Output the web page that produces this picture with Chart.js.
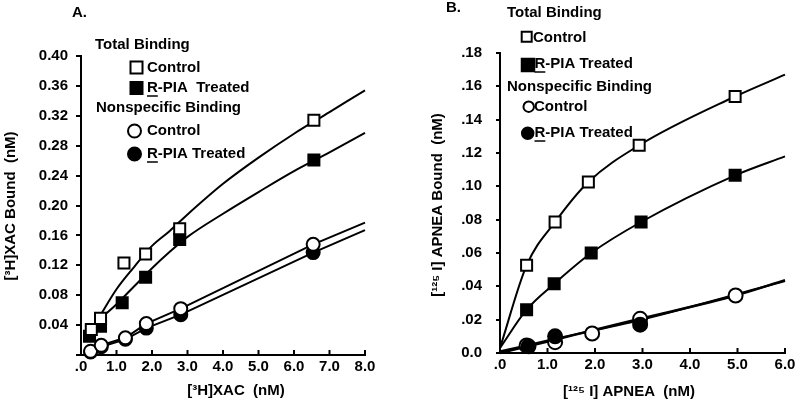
<!DOCTYPE html>
<html>
<head>
<meta charset="utf-8">
<script src="https://cdn.jsdelivr.net/npm/chart.js@4"></script>
<style>
  body { margin: 0; background: #fff; }
  .panel { position: absolute; top: 0; width: 400px; height: 402px; }
</style>
</head>
<body>
<div class="panel" style="left:0"><canvas id="chart-a" width="400" height="402"></canvas></div>
<div class="panel" style="left:400px"><canvas id="chart-b" width="400" height="402"></canvas></div>
<script>
const FONT = '"Liberation Sans", Arial, Helvetica, sans-serif';

// ---- Panel A: [3H]XAC ----
const aXLabels = [".0", "1.0", "2.0", "3.0", "4.0", "5.0", "6.0", "7.0", "8.0"];
const aYLabels = ["", "0.04", "0.08", "0.12", "0.16", "0.20", "0.24", "0.28", "0.32", "0.36", "0.40"];

const aTotalControl = [
  { x: 0.29, y: 0.034 }, { x: 0.55, y: 0.049 }, { x: 1.21, y: 0.123 },
  { x: 1.82, y: 0.135 }, { x: 2.78, y: 0.169 }, { x: 6.56, y: 0.314 },
];
const aTotalTreated = [
  { x: 0.24, y: 0.025 }, { x: 0.55, y: 0.0385 }, { x: 1.16, y: 0.070 },
  { x: 1.82, y: 0.104 }, { x: 2.78, y: 0.1545 }, { x: 6.56, y: 0.261 },
];
const aNonspecControl = [
  { x: 0.27, y: 0.005 }, { x: 0.57, y: 0.013 }, { x: 1.25, y: 0.023 },
  { x: 1.84, y: 0.042 }, { x: 2.81, y: 0.062 }, { x: 6.54, y: 0.148 },
];
const aNonspecTreated = [
  { x: 0.27, y: 0.004 }, { x: 0.57, y: 0.011 }, { x: 1.25, y: 0.021 },
  { x: 1.84, y: 0.036 }, { x: 2.81, y: 0.054 }, { x: 6.54, y: 0.137 },
];
// fitted curves
const aTotalControlFit = [
  { x: 0.53, y: 0.052 }, { x: 1.0, y: 0.088 }, { x: 1.5, y: 0.118 }, { x: 2.0, y: 0.146 },
  { x: 2.5, y: 0.166 }, { x: 3.0, y: 0.188 }, { x: 4.0, y: 0.229 }, { x: 5.0, y: 0.264 },
  { x: 6.0, y: 0.296 }, { x: 7.0, y: 0.325 }, { x: 8.0, y: 0.354 },
];
const aTotalTreatedFit = [
  { x: 0.53, y: 0.048 }, { x: 1.0, y: 0.068 }, { x: 1.5, y: 0.092 }, { x: 2.0, y: 0.116 },
  { x: 2.5, y: 0.138 }, { x: 3.0, y: 0.158 }, { x: 4.0, y: 0.189 }, { x: 5.0, y: 0.218 },
  { x: 6.0, y: 0.246 }, { x: 7.0, y: 0.271 }, { x: 8.0, y: 0.297 },
];
const aNonspecControlFit = [
  { x: 0.27, y: 0.005 }, { x: 0.57, y: 0.013 }, { x: 1.25, y: 0.023 }, { x: 1.84, y: 0.042 },
  { x: 2.81, y: 0.062 }, { x: 6.54, y: 0.148 }, { x: 8.0, y: 0.177 },
];
const aNonspecTreatedFit = [
  { x: 0.27, y: 0.004 }, { x: 0.57, y: 0.011 }, { x: 1.25, y: 0.021 }, { x: 1.84, y: 0.036 },
  { x: 2.81, y: 0.054 }, { x: 6.54, y: 0.137 }, { x: 8.0, y: 0.167 },
];

// ---- Panel B: [125I] APNEA ----
const bXLabels = [".0", "1.0", "2.0", "3.0", "4.0", "5.0", "6.0"];
const bYLabels = ["0.0", ".02", ".04", ".06", ".08", ".10", ".12", ".14", ".16", ".18"];

const bTotalControl = [
  { x: 0.56, y: 0.0526 }, { x: 1.16, y: 0.0786 }, { x: 1.86, y: 0.1026 },
  { x: 2.93, y: 0.1246 }, { x: 4.95, y: 0.1539 },
];
const bTotalTreated = [
  { x: 0.56, y: 0.026 }, { x: 1.14, y: 0.0415 }, { x: 1.92, y: 0.060 },
  { x: 2.97, y: 0.0786 }, { x: 4.95, y: 0.1066 },
];
const bNonspecControl = [
  { x: 0.56, y: 0.0045 }, { x: 1.16, y: 0.0065 }, { x: 1.94, y: 0.0117 },
  { x: 2.95, y: 0.0205 }, { x: 4.96, y: 0.0345 },
];
const bNonspecTreated = [
  { x: 0.6, y: 0.004 }, { x: 1.16, y: 0.010 }, { x: 2.95, y: 0.017 },
];
const bTotalControlFit = [
  { x: 0, y: 0.003 }, { x: 0.56, y: 0.0526 }, { x: 1.16, y: 0.0786 }, { x: 1.86, y: 0.1026 },
  { x: 2.93, y: 0.1246 }, { x: 4.95, y: 0.1539 }, { x: 6.0, y: 0.167 },
];
const bTotalTreatedFit = [
  { x: 0, y: 0.003 }, { x: 0.56, y: 0.026 }, { x: 1.14, y: 0.0415 }, { x: 1.92, y: 0.060 },
  { x: 2.97, y: 0.0786 }, { x: 4.95, y: 0.1066 }, { x: 6.0, y: 0.118 },
];
const bNonspecControlFit = [
  { x: 0, y: 0 }, { x: 1.16, y: 0.008 }, { x: 1.94, y: 0.0135 }, { x: 2.95, y: 0.0205 },
  { x: 4.96, y: 0.0345 }, { x: 6.0, y: 0.0437 },
];
const bNonspecTreatedFit = [
  { x: 0, y: 0.001 }, { x: 1.16, y: 0.0085 }, { x: 2.95, y: 0.0198 }, { x: 6.0, y: 0.0432 },
];

// extra drawing: inward x ticks, panel label, axis titles, the hand-made legend
const drawExtras = {
  id: 'drawExtras',
  afterDraw(chart, args, opts) {
    const ctx = chart.ctx;
    const xs = chart.scales.x;
    ctx.save();
    ctx.strokeStyle = '#000';
    ctx.fillStyle = '#000';
    ctx.lineWidth = 2;
    xs.ticks.forEach(t => {
      const px = xs.getPixelForValue(t.value);
      ctx.beginPath();
      ctx.moveTo(px, xs.top);
      ctx.lineTo(px, xs.top - 5);
      ctx.stroke();
    });

    (opts.symbols || []).forEach(s => {
      ctx.beginPath();
      if (s.shape === 'rect') ctx.rect(s.x - s.size / 2, s.y - s.size / 2, s.size, s.size);
      else ctx.arc(s.x, s.y, s.size / 2, 0, Math.PI * 2);
      ctx.fillStyle = s.fill ? '#000' : '#fff';
      ctx.fill();
      ctx.stroke();
    });

    ctx.fillStyle = '#000';
    ctx.font = 'bold 15px ' + FONT;
    ctx.textBaseline = 'middle';
    (opts.texts || []).forEach(t => {
      ctx.save();
      ctx.translate(t.x, t.y);
      if (t.rotate) ctx.rotate(t.rotate);
      ctx.textAlign = t.align || 'left';
      ctx.fillText(t.text, 0, 0);
      if (t.underlineFirst) {
        const w = ctx.measureText(t.text[0]).width;
        ctx.lineWidth = 1.5;
        ctx.beginPath();
        ctx.moveTo(0, 8);
        ctx.lineTo(w, 8);
        ctx.stroke();
      }
      ctx.restore();
    });
    ctx.restore();
  }
};

function points(data, shape, filled, radius, order) {
  return {
    data, order, showLine: false, clip: false,
    pointStyle: shape, pointRadius: radius,
    pointBorderWidth: 2, pointBorderColor: '#000',
    pointBackgroundColor: filled ? '#000' : '#fff',
  };
}

function curve(data, width, order, smooth) {
  return {
    data, order, clip: false, pointRadius: 0,
    borderColor: '#000', borderWidth: width,
    cubicInterpolationMode: smooth ? 'monotone' : 'default', tension: 0,
  };
}

function axisOptions(min, max, step, labels, fitSize, isX, padding, tickLength) {
  return {
    type: 'linear', min, max,
    afterFit: s => { if (isX) s.height = fitSize; else s.width = fitSize; },
    border: { color: '#000', width: 2 },
    grid: { drawOnChartArea: false, drawTicks: !isX, tickLength, color: '#000', lineWidth: 2 },
    ticks: {
      stepSize: step, padding, color: '#000', maxRotation: 0, autoSkip: false,
      font: { family: FONT, size: 15, weight: 'bold' },
      callback: (v, i) => labels[i],
    },
  };
}

new Chart(document.getElementById('chart-a'), {
  type: 'line',
  data: {
    datasets: [
      curve(aTotalControlFit, 2, 10, true),
      curve(aTotalTreatedFit, 2, 10, true),
      curve(aNonspecControlFit, 2, 10, false),
      curve(aNonspecTreatedFit, 2, 10, false),
      points(aNonspecControl, 'circle', false, 6.5, 1),
      points(aNonspecTreated, 'circle', true, 6.5, 2),
      points(aTotalControl, 'rect', false, 7.8, 3),
      points(aTotalTreated, 'rect', true, 7.8, 4),
    ],
  },
  options: {
    responsive: false,
    animation: false,
    devicePixelRatio: 1,
    layout: { padding: { top: 56, right: 35, left: 0, bottom: 0 } },
    plugins: {
      legend: { display: false },
      tooltip: { enabled: false },
      drawExtras: {
        symbols: [
          { shape: 'rect', fill: false, x: 136.5, y: 67.5, size: 12 },
          { shape: 'rect', fill: true, x: 136.5, y: 88, size: 12 },
          { shape: 'circle', fill: false, x: 134.5, y: 131, size: 13 },
          { shape: 'circle', fill: true, x: 134.5, y: 154, size: 13 },
        ],
        texts: [
          { text: 'A.', x: 72, y: 13 },
          { text: 'Total Binding', x: 95, y: 45 },
          { text: 'Control', x: 147, y: 68 },
          { text: 'R-PIA  Treated', x: 147, y: 88, underlineFirst: true },
          { text: 'Nonspecific Binding', x: 96, y: 108 },
          { text: 'Control', x: 147, y: 131 },
          { text: 'R-PIA Treated', x: 147, y: 154, underlineFirst: true },
          { text: '[³H]XAC Bound  (nM)', x: 11, y: 206, rotate: -Math.PI / 2, align: 'center' },
          { text: '[³H]XAC  (nM)', x: 236, y: 391, align: 'center' },
        ],
      },
    },
    scales: {
      x: axisOptions(0, 8, 1, aXLabels, 47, true, 3, 0),
      y: axisOptions(0, 0.4, 0.04, aYLabels, 81, false, 8, 5),
    },
  },
  plugins: [drawExtras],
});

new Chart(document.getElementById('chart-b'), {
  type: 'line',
  data: {
    datasets: [
      curve(bTotalControlFit, 2, 10, true),
      curve(bTotalTreatedFit, 2, 10, true),
      curve(bNonspecControlFit, 2.5, 10, true),
      curve(bNonspecTreatedFit, 2, 10, true),
      points(bNonspecTreated, 'circle', true, 7, 1),
      points(bNonspecControl, 'circle', false, 7, 2),
      points(bTotalControl, 'rect', false, 7.8, 3),
      points(bTotalTreated, 'rect', true, 7.8, 4),
    ],
  },
  options: {
    responsive: false,
    animation: false,
    devicePixelRatio: 1,
    layout: { padding: { top: 53, right: 15, left: 0, bottom: 0 } },
    plugins: {
      legend: { display: false },
      tooltip: { enabled: false },
      drawExtras: {
        symbols: [
          { shape: 'rect', fill: false, x: 126.7, y: 36.7, size: 10 },
          { shape: 'rect', fill: true, x: 128, y: 65, size: 12.5 },
          { shape: 'circle', fill: false, x: 128.7, y: 106.7, size: 10.5 },
          { shape: 'circle', fill: true, x: 127.7, y: 133.3, size: 11.5 },
        ],
        texts: [
          { text: 'B.', x: 46, y: 8 },
          { text: 'Total Binding', x: 107, y: 13 },
          { text: 'Control', x: 133, y: 38 },
          { text: 'R-PIA Treated', x: 134.5, y: 64, underlineFirst: true },
          { text: 'Nonspecific Binding', x: 107, y: 87 },
          { text: 'Control', x: 134, y: 107 },
          { text: 'R-PIA Treated', x: 134.5, y: 133, underlineFirst: true },
          { text: '[¹²⁵ I] APNEA Bound  (nM)', x: 37.5, y: 205, rotate: -Math.PI / 2, align: 'center' },
          { text: '[¹²⁵ I] APNEA  (nM)', x: 229, y: 392, align: 'center' },
        ],
      },
    },
    scales: {
      x: axisOptions(0, 6, 1, bXLabels, 49, true, 3, 0),
      y: axisOptions(0, 0.18, 0.02, bYLabels, 100, false, 14, 4),
    },
  },
  plugins: [drawExtras],
});
</script>
</body>
</html>
